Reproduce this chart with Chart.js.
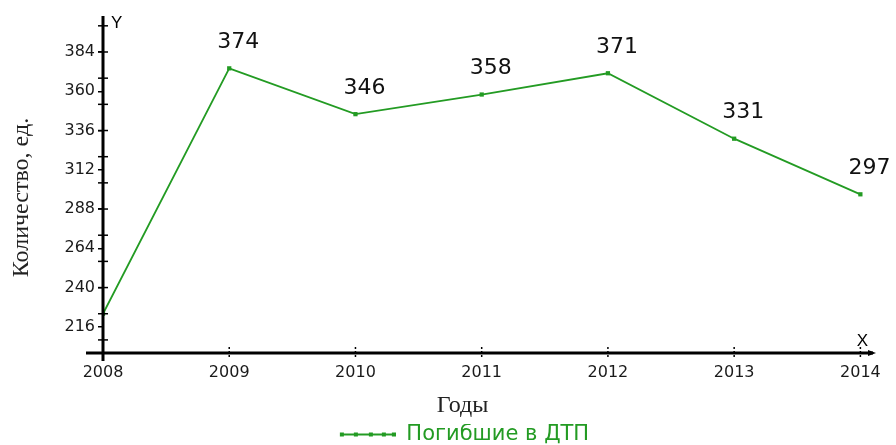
<!DOCTYPE html>
<html lang="ru">
<head>
  <meta charset="UTF-8">
  <title>Погибшие в ДТП</title>
  <script src="https://cdn.jsdelivr.net/npm/chart.js"></script>
  <style>
    body { margin: 0; background: #fff; }
    #wrap { width: 896px; height: 445px; position: relative; }
  </style>
</head>
<body>
  <div id="wrap"><canvas id="roadChart"></canvas></div>

  <script>
    const years = [2008, 2009, 2010, 2011, 2012, 2013, 2014];
    const deaths = [224, 374, 346, 358, 371, 331, 297];
    const yTickLabels = [216, 240, 264, 288, 312, 336, 360, 384];
    const seriesName = 'Погибшие в ДТП';
    const xTitle = 'Годы';
    const yTitle = 'Количество, ед.';

    const green = '#239b23';
    const sans = "'DejaVu Sans', Arial, sans-serif";
    const serif = "'Liberation Serif', 'Times New Roman', serif";

    // legend marker: a short line with small square dots (blank lead-in on the left)
    const markerLead = 56;
    function legendMarker() {
      const c = document.createElement('canvas');
      c.width = markerLead + 56; c.height = 8;
      const g = c.getContext('2d');
      g.strokeStyle = green;
      g.lineWidth = 2;
      g.beginPath(); g.moveTo(markerLead + 1, 4); g.lineTo(markerLead + 55, 4); g.stroke();
      g.fillStyle = green;
      [2, 16, 31, 44, 54].forEach(x => g.fillRect(markerLead + x - 2, 2, 4, 4));
      return c;
    }

    // axis lines with crossing ticks, the X/Y letters, axis titles and value labels
    const axesPlugin = {
      id: 'axesPlugin',
      afterDatasetsDraw(chart) {
        const ctx = chart.ctx;
        const xs = chart.scales.x, ys = chart.scales.y;
        const x0 = xs.getPixelForValue(2008);
        const y0 = ys.getPixelForValue(200);
        const area = chart.chartArea;
        ctx.save();
        ctx.strokeStyle = '#000';
        ctx.fillStyle = '#000';

        ctx.lineWidth = 3;
        ctx.beginPath();
        ctx.moveTo(x0 - 17, y0); ctx.lineTo(area.right, y0);
        ctx.moveTo(x0, area.top); ctx.lineTo(x0, y0 + 8);
        ctx.stroke();
        ctx.beginPath();
        ctx.moveTo(area.right + 3, y0);
        ctx.lineTo(area.right - 5, y0 - 3);
        ctx.lineTo(area.right - 5, y0 + 3);
        ctx.closePath(); ctx.fill();

        // crossing minor ticks on y
        ctx.lineWidth = 1.5;
        for (let v = 208; v <= 400; v += 16) {
          const py = ys.getPixelForValue(v);
          ctx.beginPath(); ctx.moveTo(x0 - 5, py); ctx.lineTo(x0 + 5, py); ctx.stroke();
        }
        // dotted ticks on x
        ctx.setLineDash([2, 2]);
        years.slice(1).forEach(yr => {
          const px = xs.getPixelForValue(yr);
          ctx.beginPath(); ctx.moveTo(px, y0 - 6); ctx.lineTo(px, y0 + 6); ctx.stroke();
        });
        ctx.setLineDash([]);

        ctx.font = "17px 'Liberation Sans', Arial, sans-serif";
        ctx.textAlign = 'left';
        ctx.textBaseline = 'middle';
        ctx.fillText('Y', x0 + 8, area.top + 7);
        ctx.textAlign = 'center';
        ctx.fillText('X', xs.getPixelForValue(2014) + 2, y0 - 12);

        // axis titles
        ctx.fillStyle = '#222';
        ctx.font = '24px ' + serif;
        ctx.fillText(xTitle, (xs.getPixelForValue(2011) + xs.getPixelForValue(2010)) / 2 + 44, y0 + 53);
        ctx.save();
        ctx.translate(22, ys.getPixelForValue(295));
        ctx.rotate(-Math.PI / 2);
        ctx.fillText(yTitle, 0, 0);
        ctx.restore();

        // value labels above points
        const meta = chart.getDatasetMeta(0);
        ctx.font = '22px ' + sans;
        ctx.fillStyle = '#111';
        meta.data.forEach((pt, i) => {
          if (i === 0) return;
          ctx.fillText(String(deaths[i]), pt.x + 9, pt.y - 26);
        });
        ctx.restore();
      }
    };

    new Chart(document.getElementById('roadChart'), {
      type: 'line',
      data: {
        datasets: [{
          label: seriesName,
          data: years.map((yr, i) => ({ x: yr, y: deaths[i] })),
          borderColor: green,
          backgroundColor: green,
          borderWidth: 1.8,
          pointStyle: 'rect',
          pointRadius: 3,
          pointBackgroundColor: green,
          pointBorderWidth: 0,
          tension: 0,
          fill: false
        }]
      },
      options: {
        responsive: true,
        maintainAspectRatio: false,
        animation: false,
        layout: { padding: { top: 16, right: 23, left: 0, bottom: -10 } },
        plugins: {
          tooltip: { enabled: false },
          legend: {
            position: 'bottom',
            labels: {
              usePointStyle: true,
              pointStyleWidth: markerLead + 56,
              color: green,
              padding: 0,
              font: { family: sans, size: 21 },
              generateLabels(chart) {
                const items = Chart.defaults.plugins.legend.labels.generateLabels(chart);
                items.forEach(it => { it.pointStyle = legendMarker(); it.fontColor = green; });
                return items;
              }
            }
          }
        },
        scales: {
          x: {
            type: 'linear',
            min: 2008,
            max: 2014.1,
            afterBuildTicks(scale) { scale.ticks = years.map(v => ({ value: v })); },
            afterFit(scale) { scale.height = 71; },
            grid: { drawOnChartArea: false, drawTicks: false },
            border: { display: false },
            ticks: {
              padding: 10,
              color: '#1a1a1a',
              font: { family: sans, size: 16 },
              callback: v => String(v)
            }
          },
          y: {
            min: 200,
            max: 406,
            afterBuildTicks(scale) { scale.ticks = yTickLabels.map(v => ({ value: v })); },
            afterFit(scale) { scale.width = 103; },
            grid: { drawOnChartArea: false, drawTicks: true, tickLength: 5, color: '#000', lineWidth: 1.5 },
            border: { display: false },
            ticks: {
              padding: 3,
              color: '#1a1a1a',
              font: { family: sans, size: 16 }
            }
          }
        }
      },
      plugins: [axesPlugin]
    });
  </script>
</body>
</html>
